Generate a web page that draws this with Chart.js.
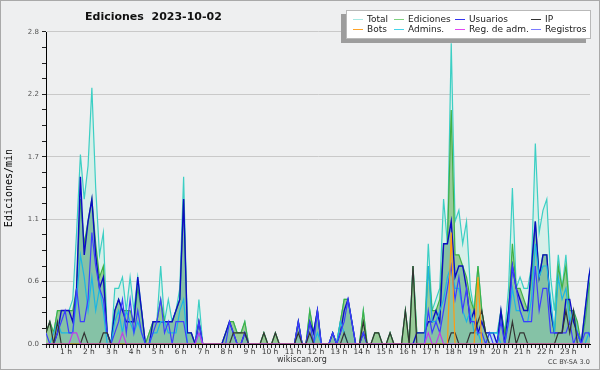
<!DOCTYPE html>
<html lang="es">
<head>
<meta charset="UTF-8">
<title>Ediciones 2023-10-02</title>
<script src="https://cdn.jsdelivr.net/npm/chart.js"></script>
<style>
  html, body { margin: 0; padding: 0; background: #eeeff0; }
  #wrap { position: relative; width: 600px; height: 370px; overflow: hidden; }
  #wrap canvas { position: absolute; left: 0; top: 0; }
  #frame { position: absolute; left: 0; top: 0; width: 598px; height: 368px; border: 1px solid #a9a9a9; pointer-events: none; }
  .title { position: absolute; left: 85px; top: 10px; font: bold 11px 'DejaVu Sans'; line-height: 13px; color: #111; white-space: pre; }
  .legend { position: absolute; left: 346px; top: 10px; width: 243px; height: 27px; background: #fff; border: 1px solid #b9b9b9; box-shadow: -5px 4px 0 #9d9d9d; }
  .lg-line { position: absolute; width: 10px; height: 1px; }
  .lg-text { position: absolute; font: 9px 'DejaVu Sans'; line-height: 10px; color: #222; white-space: nowrap; }
  .note { position: absolute; font: 8px 'DejaVu Sans'; line-height: 10px; color: #333; white-space: nowrap; }
</style>
</head>
<body>
<div id="wrap">
  <canvas id="chart" width="600" height="370"></canvas>
  <div class="title">Ediciones  2023-10-02</div>
  <div class="legend" id="legend"></div>
  <div class="note" style="left:277px; top:355px;">wikiscan.org</div>
  <div class="note" style="left:548px; top:357px; font-size:6.5px; color:#444;">CC BY-SA 3.0</div>
  <div id="frame"></div>
</div>
<script>
  // etiquetas de los ejes
  const hourLabels = ['1 h','2 h','3 h','4 h','5 h','6 h','7 h','8 h','9 h','10 h','11 h','12 h',
                      '13 h','14 h','15 h','16 h','17 h','18 h','19 h','20 h','21 h','22 h','23 h'];
  const yTickLabels = ['0.0', '0.6', '1.1', '1.7', '2.2', '2.8'];

  // ediciones por minuto, una muestra cada 10 min (6 por hora)
  const total = [
    0.1,0.2,0.1,0.3,0.3,0.3,  0.3,0.4,1.0,1.7,1.3,1.6,  2.3,1.4,0.8,1.0,0.1,0,    0.5,0.5,0.6,0.3,0.6,0.3,
    0.6,0.3,0,0.1,0.2,0.2,    0.7,0.2,0.4,0.2,0.3,0.5,  1.5,0.1,0.1,0,0.4,0,      0,0,0,0,0,0.1,
    0.2,0.2,0.1,0.1,0.2,0,    0,0,0,0.1,0,0,            0.1,0,0,0,0,0,            0.2,0,0,0.3,0.1,0.3,
    0,0,0,0.1,0,0.2,          0.4,0.4,0.2,0,0,0.3,      0,0,0.1,0.1,0,0,          0.1,0,0,0,0.3,0,
    0.7,0.1,0.1,0.1,0.9,0.3,  0.4,0.5,1.3,0.9,2.7,1.1,  1.2,0.9,1.1,0.5,0.3,0.7,  0.3,0.1,0.1,0.1,0.1,0.3,
    0.1,0.5,1.4,0.5,0.6,0.5,  0.5,0.7,1.8,1.0,1.2,1.3,  0.6,0.3,0.8,0.5,0.8,0.3,  0.3,0.1,0,0.3,0.6,0.8
  ];
  const ediciones = [
    0.1,0.2,0.1,0.3,0.3,0.3,  0.3,0.3,0.5,1.3,0.9,1.1,  1.3,0.9,0.6,0.7,0.1,0,    0.3,0.4,0.3,0.3,0.3,0.2,
    0.5,0.3,0,0.1,0.2,0.2,    0.4,0.2,0.2,0.2,0.3,0.4,  1.3,0.1,0.1,0,0.2,0,      0,0,0,0,0,0.1,
    0.2,0.2,0.1,0.1,0.2,0,    0,0,0,0.1,0,0,            0.1,0,0,0,0,0,            0.2,0,0,0.3,0.1,0.3,
    0,0,0,0.1,0,0.2,          0.4,0.4,0.2,0,0,0.3,      0,0,0.1,0.1,0,0,          0.1,0,0,0,0.3,0,
    0.7,0.1,0.1,0.1,0.7,0.3,  0.3,0.4,0.9,0.9,2.1,0.8,  0.8,0.7,0.6,0.4,0.3,0.7,  0.3,0.1,0,0,0,0.3,
    0.1,0.3,0.9,0.5,0.5,0.4,  0.3,0.6,1.1,0.6,0.8,0.8,  0.3,0.1,0.7,0.5,0.7,0.3,  0.3,0.2,0,0.2,0.5,0.7
  ];
  const usuarios = [
    0,0,0,0.1,0.3,0.3,        0.3,0.2,0.5,1.5,0.8,1.1,  1.3,0.8,0.5,0.6,0.1,0,    0.3,0.4,0.3,0.2,0.2,0.2,
    0.6,0.3,0,0,0.2,0.2,      0.2,0.2,0.2,0.2,0.3,0.4,  1.3,0.1,0.1,0,0.2,0,      0,0,0,0,0,0.1,
    0.2,0.1,0,0,0.1,0,        0,0,0,0,0,0,              0,0,0,0,0,0,              0.2,0,0,0.2,0.1,0.3,
    0,0,0,0.1,0,0.1,          0.3,0.4,0.2,0,0,0.1,      0,0,0,0,0,0,              0,0,0,0,0,0,
    0,0.1,0.1,0.1,0.2,0.2,    0.3,0.2,0.9,0.9,1.1,0.6,  0.7,0.7,0.5,0.2,0.3,0.1,  0.2,0.1,0.1,0.1,0,0.3,
    0,0.3,0.7,0.5,0.4,0.3,    0.3,0.7,1.1,0.6,0.8,0.8,  0.3,0.1,0.1,0.1,0.4,0.4,  0.2,0.1,0,0.3,0.6,0.8
  ];
  const ip = [
    0.1,0.2,0,0.2,0,0,        0,0,0,0,0.1,0,            0,0,0,0.1,0.1,0,          0,0,0,0,0,0,
    0,0,0,0,0,0,              0,0,0,0,0,0,              0,0,0,0,0,0,              0,0,0,0,0,0,
    0,0.1,0.1,0.1,0.1,0,      0,0,0,0.1,0,0,            0.1,0,0,0,0,0,            0.1,0,0,0.1,0,0,
    0,0,0,0,0,0,              0.1,0,0,0,0,0.2,          0,0,0.1,0.1,0,0,          0.1,0,0,0,0.3,0,
    0.7,0,0,0,0,0,            0,0,0,0,0.1,0.1,          0,0,0,0.1,0.1,0.2,        0.3,0.1,0,0,0,0,
    0,0,0.2,0,0.1,0.1,        0,0,0,0,0,0,              0,0,0.1,0.1,0.3,0.1,      0.3,0,0,0,0,0
  ];
  const bots = [
    0,0,0,0,0,0, 0,0,0,0,0,0, 0,0,0,0,0,0, 0,0,0,0,0,0,
    0,0,0,0,0,0, 0,0,0,0,0,0, 0,0,0,0,0,0, 0,0,0,0,0,0,
    0,0,0,0,0,0, 0,0,0,0,0,0, 0,0,0,0,0,0, 0,0,0,0,0,0,
    0,0,0,0,0,0, 0,0,0,0,0,0, 0,0,0,0,0,0, 0,0,0,0,0,0,
    0,0,0,0,0,0, 0,0,0,0,1.0,0, 0,0,0,0,0,0.6, 0,0,0,0,0,0,
    0,0,0,0,0,0, 0,0,0,0,0,0, 0,0,0,0,0,0, 0,0,0,0,0,0
  ];
  const admins = [
    0,0,0.1,0.2,0.1,0.1,      0.1,0.1,0.4,0.8,0.6,0.3,  0.6,0.3,0.5,0.3,0,0,      0.2,0.3,0.1,0.3,0.2,0.1,
    0.2,0.1,0,0,0.1,0.1,      0.2,0.2,0.1,0.1,0.1,0.3,  0.4,0,0,0,0.1,0,          0,0,0,0,0,0,
    0,0,0,0,0,0,              0,0,0,0,0,0,              0,0,0,0,0,0,              0,0,0,0,0,0.1,
    0,0,0,0,0,0.2,            0.1,0,0,0,0,0,            0,0,0,0,0,0,              0,0,0,0,0,0,
    0,0,0,0,0.7,0.2,          0.2,0.3,0.4,0.6,0.7,0.5,  0.5,0.3,0.2,0.3,0.1,0.1,  0,0,0.1,0.1,0.1,0,
    0,0.2,0.5,0.3,0.3,0.2,    0.2,0.4,0.9,0.6,0.7,0.7,  0.4,0.1,0.6,0.4,0.5,0.2,  0.3,0.1,0,0,0.1,0
  ];
  const regAdm = [
    0,0,0,0,0,0, 0,0.1,0.1,0,0,0, 0,0,0,0,0,0, 0,0,0.1,0,0,0,
    0,0,0,0,0,0, 0,0,0,0,0,0, 0,0,0,0,0.1,0, 0,0,0,0,0,0,
    0,0,0,0,0,0, 0,0,0,0,0,0, 0,0,0,0,0,0, 0,0,0,0,0,0,
    0,0,0,0,0,0, 0,0,0,0,0,0, 0,0,0,0,0,0, 0,0,0,0,0,0,
    0,0,0,0,0.1,0, 0,0.1,0,0,0,0, 0,0,0,0,0,0, 0,0,0,0,0,0,
    0,0,0,0,0,0, 0,0,0,0,0,0, 0,0,0,0,0,0, 0,0,0,0,0,0
  ];
  const registros = [
    0.1,0,0,0.1,0.2,0.3,      0.1,0.1,0.5,0.2,0.2,0.4,  1.0,0.7,0.5,0.4,0.1,0,    0.1,0.2,0.4,0.1,0.4,0.1,
    0.3,0.1,0,0,0.1,0.2,      0.4,0.1,0.2,0,0.2,0.2,    0.2,0,0,0,0.2,0,          0,0,0,0,0,0,
    0.2,0.1,0,0,0.1,0,        0,0,0,0,0,0,              0,0,0,0,0,0,              0.2,0,0,0.2,0,0.3,
    0,0,0,0.1,0,0.1,          0.2,0.4,0.2,0,0,0.1,      0,0,0,0,0,0,              0,0,0,0,0,0,
    0,0,0,0,0.3,0.1,          0.2,0.1,0.3,0.5,0.7,0.4,  0.6,0.3,0.5,0.2,0.2,0.1,  0.1,0,0.1,0,0,0.2,
    0,0.2,0.7,0.5,0.3,0.2,    0.2,0.2,0.7,0.3,0.5,0.5,  0.1,0.1,0.1,0.1,0.1,0.2,  0,0.1,0,0.1,0.1,0
  ];

  const SLOT = 10;        // minutos entre muestras
  const X_MAX = 1423;     // el último punto (23:50) queda cortado en el borde

  function pts(arr) {
    return arr.map((v, i) => ({ x: i * SLOT, y: v }));
  }

  // series: [etiqueta, datos, color de línea, color en la leyenda, orden]
  const series = [
    { label: 'Total',        data: total,     color: '#3ccfc4', key: '#a6e9e3', order: 9,
      fill: 'origin', bg: '#d7efe9', width: 1.2 },
    { label: 'Ediciones',    data: ediciones, color: '#3fb146', key: '#7fd27f', order: 8,
      fill: 'origin', bg: '#97cb98', width: 1.2 },
    { label: 'Usuarios',     data: usuarios,  color: '#0c0cc4', key: '#3434f0', order: 7,
      fill: 'origin', bg: 'rgba(30,140,255,0.14)', width: 1.4 },
    { label: 'IP',           data: ip,        color: '#333333', key: '#333333', order: 3 },
    { label: 'Bots',         data: bots,      color: '#ff9c12', key: '#ffa428', order: 2 },
    { label: 'Admins.',      data: admins,    color: '#1cb6e4', key: '#44d4ea', order: 5 },
    { label: 'Reg. de adm.', data: regAdm,    color: '#c23ee6', key: '#e246f2', order: 1 },
    { label: 'Registros',    data: registros, color: '#3d3dff', key: '#7a7aff', order: 4 }
  ];

  // leyenda en dos filas de cuatro
  const legendBox = document.getElementById('legend');
  const colX = [6, 47, 108, 184];
  const rowY = [8, 18];
  series.forEach((s, k) => {
    const cx = colX[k % 4], cy = rowY[Math.floor(k / 4)];
    const ln = document.createElement('div');
    ln.className = 'lg-line';
    ln.style.left = cx + 'px';
    ln.style.top = cy + 'px';
    ln.style.background = s.key;
    legendBox.appendChild(ln);
    const tx = document.createElement('div');
    tx.className = 'lg-text';
    tx.style.left = (cx + 14) + 'px';
    tx.style.top = (cy - 5) + 'px';
    tx.textContent = s.label;
    legendBox.appendChild(tx);
  });

  const bgPlugin = {
    id: 'bg',
    beforeDraw(chart) {
      const c = chart.ctx;
      c.save();
      c.fillStyle = '#eeeff0';
      c.fillRect(0, 0, chart.width, chart.height);
      c.restore();
    }
  };

  new Chart(document.getElementById('chart'), {
    type: 'line',
    data: {
      datasets: series.map(s => ({
        label: s.label,
        data: pts(s.data),
        borderColor: s.color,
        backgroundColor: s.bg || 'transparent',
        fill: s.fill || false,
        borderWidth: s.width || 1.2,
        order: s.order,
        pointRadius: 0,
        tension: 0
      }))
    },
    options: {
      responsive: false,
      animation: false,
      devicePixelRatio: 1,
      events: [],
      layout: { padding: { top: 32, right: 10, left: 0, bottom: 0 } },
      plugins: {
        legend: { display: false },
        tooltip: { enabled: false }
      },
      scales: {
        x: {
          type: 'linear',
          min: 0,
          max: X_MAX,
          afterBuildTicks: scale => {
            const t = [];
            for (let m = 0; m <= 1420; m += SLOT) t.push({ value: m });
            scale.ticks = t;
          },
          afterFit: scale => { scale.height = 26; },
          border: { color: '#000', width: 1 },
          grid: { drawOnChartArea: false, tickLength: 4, tickColor: '#222' },
          ticks: {
            autoSkip: false,
            maxRotation: 0,
            minRotation: 0,
            align: 'end',
            labelOffset: 3,
            padding: 0,
            color: '#333',
            font: { family: 'DejaVu Sans', size: 7.5 },
            callback: v => (v % 60 === 0 && v > 0) ? hourLabels[v / 60 - 1] : ''
          }
        },
        y: {
          min: 0,
          max: 2.8,
          afterBuildTicks: scale => {
            const t = [];
            for (let k = 0; k <= 20; k++) t.push({ value: k * 0.14 });
            scale.ticks = t;
          },
          afterFit: scale => { scale.width = 46; },
          border: { color: '#000', width: 1 },
          grid: {
            color: ctx => (ctx.index % 4 === 0) ? '#c9c9c9' : 'rgba(0,0,0,0)',
            tickColor: '#222',
            tickLength: 4
          },
          ticks: {
            autoSkip: false,
            padding: 3,
            color: '#555',
            font: { family: 'DejaVu Sans', size: 7 },
            callback: (v, i) => (i % 4 === 0) ? yTickLabels[i / 4] : ''
          },
          title: {
            display: true,
            text: 'Ediciones/min',
            color: '#000',
            font: { family: 'DejaVu Sans Mono', size: 10 },
            padding: { top: 3, bottom: 0 }
          }
        }
      }
    },
    plugins: [bgPlugin]
  });
</script>
</body>
</html>
